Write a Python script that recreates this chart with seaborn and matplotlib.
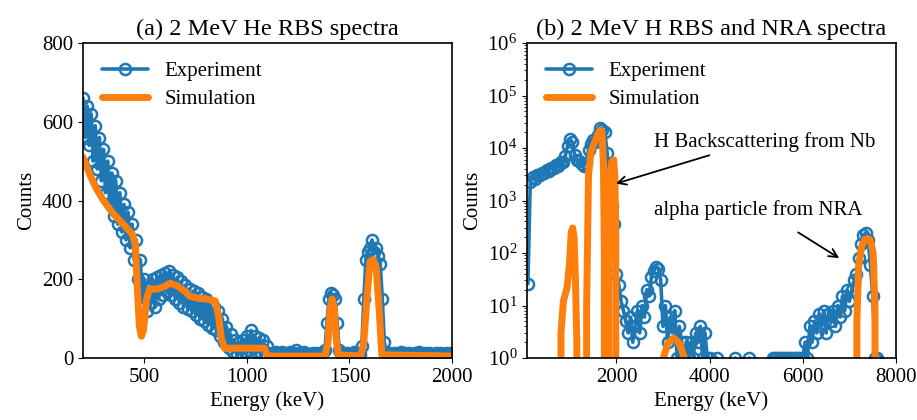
import numpy as np
import matplotlib
matplotlib.use('Agg')
import matplotlib.pyplot as plt
import seaborn as sns

# ---- (a) 2 MeV He RBS, channel energies and counts ----
energy_a = np.arange(200, 2001, 10)
exp_a = [660, 560, 640, 540, 620, 500, 590, 480, 560, 450, 530, 420, 500, 390, 470, 360, 450, 340, 420, 320, 390, 300, 370, 280, 340, 250,
         300, 200, 250, 140, 200, 120, 180, 140, 200, 130, 205, 150, 210, 160, 215, 170, 220, 160, 210, 150, 205, 140, 195, 130,
         185, 125, 175, 120, 170, 110, 165, 100, 155, 95, 150, 85, 140, 75, 130, 70, 120, 55, 100, 40, 80, 25, 60, 15, 45, 10,
         40, 12, 45, 15, 55, 20, 70, 25, 55, 15, 50, 12, 45, 10, 30, 10,
         12, 8, 14, 9, 11, 15, 8, 12, 10, 14, 9, 13, 20, 10, 12, 8, 14, 10, 11, 9, 13, 10, 12, 9, 11, 14,
         20, 90, 150, 165, 160, 150, 90, 20, 10,
         12, 9, 13, 10, 11, 14, 9, 12, 10,
         30, 150, 250, 270, 280, 300, 270, 280, 260, 240, 150, 40, 12,
         10, 13, 9, 12, 11, 10, 14, 9, 12, 10, 13, 11, 9, 12, 10, 14, 11, 9, 13, 10, 12, 11, 9, 13, 10, 12, 11, 10, 13, 9, 12, 11]

sim_a_x = [200, 230, 260, 300, 350, 400, 440, 455, 465, 475, 485, 495, 510, 525, 560, 600, 625, 660, 700, 720,
           760, 800, 845, 860, 875, 890, 1000, 1085, 1100, 1380, 1395, 1405, 1415, 1425, 1435, 1445,
           1555, 1570, 1585, 1600, 1615, 1630, 1645, 1658, 2000]
sim_a_y = [510, 470, 435, 400, 365, 338, 315, 290, 180, 80, 55, 70, 150, 175, 175, 182, 190, 183, 168, 157,
           152, 150, 145, 110, 50, 25, 25, 25, 5, 5, 40, 120, 150, 130, 50, 8,
           5, 40, 150, 245, 250, 230, 120, 8, 5]

# ---- (b) 2 MeV H RBS and NRA ----
energy_b = np.arange(100, 7601, 50)
exp_b = [26, 2300, 2800, 2600, 3100, 3000, 3400, 3300, 3800, 3700, 4200, 4100, 4700, 4600, 5300, 5500, 7000, 11000, 15000, 13000,
         7500, 6000, 5600, 5000, 4600, 5200, 9000, 12000, 14000, 13000, 18000, 24000, 22000, 20000, 8000, 3000, 800, 350, 40,
         25, 12, 8, 5, 3, 6, 2, 4, 8, 3, 10, 6, 20, 15, 35, 45, 55, 50, 30, 4,
         10, 2, 6, 3, 8, 1, 4, 2, 1, 2, 1, 2, 1, 3, 2, 4, 1, 3, 1, 1,
         0, 0, 1, 0, 0, 0, 0, 0, 0, 0, 1, 0, 0, 0, 0, 0, 1, 0, 0, 0,
         0, 0, 0, 0, 0, 0, 1, 1, 1, 1, 1, 1, 1, 1, 1, 1, 1, 1, 1, 1,
         2, 1, 4, 2, 5, 3, 7, 4, 8, 3, 7, 5, 8, 4, 10, 6, 15, 8, 20, 12,
         20, 30, 40, 80, 150, 220, 240, 180, 60, 15, 1, 1][:len(energy_b)]

sim_b_x = [100, 790, 810, 860, 940, 990, 1030, 1060, 1090, 1120, 1150, 1170, 1330, 1360, 1400, 1450, 1500, 1550, 1600, 1650,
           1690, 1720, 1740, 1760, 1800, 1830, 1860, 1900, 1940, 1965, 1985, 2000, 2990, 3010, 3100, 3230, 3350, 3460, 3480,
           7140, 7160, 7200, 7260, 7330, 7390, 7450, 7510, 7550, 7570, 8000]
sim_b_y = [0, 0, 3, 12, 22, 60, 250, 300, 200, 30, 2, 0, 0, 10, 3000, 8000, 11000, 14000, 18000, 22000,
           20000, 5000, 100, 0, 0, 50, 3000, 5500, 6000, 3000, 300, 0, 0, 1, 1.9, 2.4, 1.9, 1, 0,
           0, 5, 60, 130, 180, 190, 175, 100, 8, 0, 0]

sns.set_style('ticks', {'axes.edgecolor': 'black', 'xtick.color': 'black', 'ytick.color': 'black',
                        'text.color': 'black', 'axes.labelcolor': 'black'})
plt.rcParams['font.family'] = ['Liberation Serif', 'DejaVu Serif']
plt.rcParams['mathtext.fontset'] = 'custom'
plt.rcParams['mathtext.rm'] = 'Liberation Serif'
plt.rcParams['mathtext.it'] = 'Liberation Serif:italic'
plt.rcParams['axes.linewidth'] = 1.2
plt.rcParams['font.size'] = 15

blue, orange = '#1f77b4', '#ff7f0e'
fs = 15

fig = plt.figure(figsize=(9.17, 4.2), dpi=100)
ax1 = fig.add_axes([0.0905, 0.1476, 0.4024, 0.75])
ax2 = fig.add_axes([0.5747, 0.1476, 0.4024, 0.75])

for ax, ex, ey, sx, sy in [(ax1, energy_a, exp_a, sim_a_x, sim_a_y),
                           (ax2, energy_b, exp_b, sim_b_x, sim_b_y)]:
    sns.lineplot(x=ex, y=ey, ax=ax, estimator=None, color=blue, lw=2.6, marker='o', markersize=8,
                 markerfacecolor='none', markeredgecolor=blue, markeredgewidth=1.8, label='Experiment')
    sns.lineplot(x=sx, y=sy, ax=ax, estimator=None, color=orange, lw=5, label='Simulation',
                 solid_capstyle='round', solid_joinstyle='round')
    ax.set_xlabel('Energy (keV)', fontsize=fs, labelpad=3)
    ax.set_ylabel('Counts', fontsize=fs)
    ax.tick_params(labelsize=fs)
    ax.legend(loc='upper left', frameon=False, fontsize=fs, handlelength=2.2, handletextpad=0.8, labelspacing=0.4)

ax1.set_xlim(200, 2000)
ax1.set_ylim(0, 800)
ax1.set_xticks([500, 1000, 1500, 2000])
ax1.set_yticks([0, 200, 400, 600, 800])
ax1.set_title('(a) 2 MeV He RBS spectra', fontsize=17.5)

ax2.set_yscale('log')
ax2.set_xlim(80, 8000)
ax2.set_ylim(1, 1e6)
ax2.set_xticks([2000, 4000, 6000, 8000])
ax2.set_title('(b) 2 MeV H RBS and NRA spectra', fontsize=17.5)

ax2.annotate('H Backscattering from Nb', xy=(1990, 2100), xytext=(2800, 1.3e4), fontsize=fs,
             va='center', arrowprops=dict(arrowstyle='->', color='black', lw=1.3, shrinkA=0, shrinkB=0,
                                          relpos=(0.3, 0.0)))
ax2.annotate('alpha particle from NRA', xy=(6780, 80), xytext=(2800, 650), fontsize=fs,
             va='center', arrowprops=dict(arrowstyle='->', color='black', lw=1.3, shrinkA=12, shrinkB=0,
                                          relpos=(0.6, 0.0)))

fig.savefig('out.png', dpi=100)
